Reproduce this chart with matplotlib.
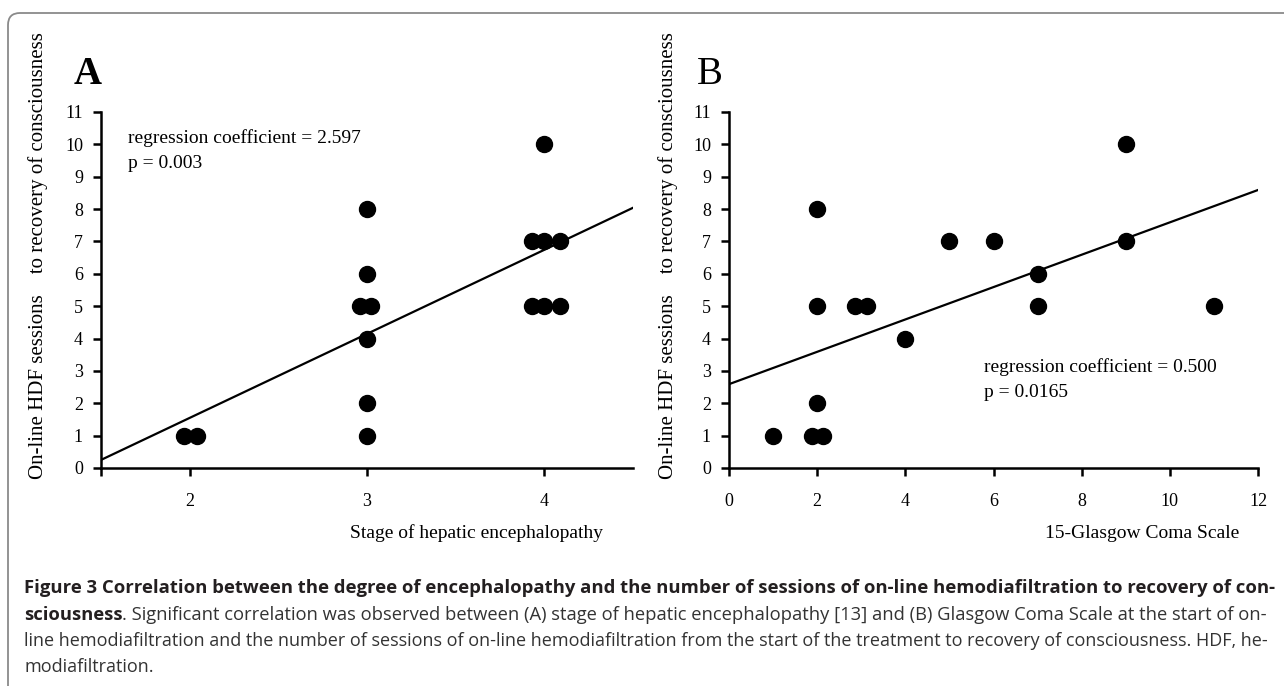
import matplotlib
matplotlib.use("Agg")
import matplotlib.pyplot as plt
from matplotlib.transforms import IdentityTransform
from matplotlib.patches import FancyBboxPatch

# panel A: stage of hepatic encephalopathy vs sessions
stage_x = [1.97, 2.04, 3.0, 3.0, 2.96, 3.02, 3.0, 3.0, 3.0, 4.0, 3.93, 4.0, 4.09, 3.93, 4.0, 4.09]
stage_y = [1, 1, 8, 6, 5, 5, 4, 2, 1, 10, 7, 7, 7, 5, 5, 5]
coefA = (2.597, -3.646)

# panel B: 15 - Glasgow Coma Scale vs sessions
gcs_x = [1.0, 2.0, 2.0, 2.0, 1.89, 2.14, 2.86, 3.13, 4.0, 5.0, 6.0, 7.0, 7.0, 9.0, 9.0, 11.0]
gcs_y = [1, 8, 5, 2, 1, 1, 5, 5, 4, 7, 7, 6, 5, 10, 7, 5]
coefB = (0.500, 2.59)

ylabel = "On-line HDF sessions    to recovery of consciousness"
W, H = 1284, 686
serif = ["Liberation Serif", "DejaVu Serif"]
sans = ["Open Sans", "DejaVu Sans"]

fig = plt.figure(figsize=(12.84, 6.86), dpi=100)
fig.add_artist(FancyBboxPatch((8, -30), 1320, 686 - 13 + 30,
                              boxstyle="round,pad=0,rounding_size=12",
                              transform=IdentityTransform(), fill=False,
                              ec="#8a8a8a", lw=1.3))


def panel(rect, xs, ys, coef, xlim, xticks, letter, bold, letter_x, note, note_xy,
          xlabel, xlab_x, ylab_x):
    ax = fig.add_axes(rect)
    ax.plot(xs, ys, ls="none", marker="o", ms=11.5, color="black")
    lx = list(xlim)
    ax.plot(lx, [coef[0] * v + coef[1] for v in lx], color="black", lw=1.6)
    ax.set_xlim(*xlim)
    ax.set_ylim(0, 11)
    ax.set_yticks(range(12))
    ax.set_xticks(xticks)
    ax.set_xticks([xlim[0]], minor=True)
    for s in ["top", "right"]:
        ax.spines[s].set_visible(False)
    for s in ["left", "bottom"]:
        ax.spines[s].set_linewidth(1.8)
    ax.tick_params(which="both", direction="out", length=6, width=1.8)
    ax.tick_params(axis="x", pad=12)
    ax.tick_params(axis="y", pad=7)
    for t in ax.get_xticklabels() + ax.get_yticklabels():
        t.set_fontfamily(serif)
        t.set_fontsize(13)
    ax.text(note_xy[0], note_xy[1], note[0], fontfamily=serif, fontsize=14, va="center")
    ax.text(note_xy[0], note_xy[1] - 0.8, note[1], fontfamily=serif, fontsize=14, va="center")
    ax.text(ylab_x, 0.598, ylabel, transform=ax.transAxes, rotation=90,
            fontfamily=serif, fontsize=15, ha="center", va="center")
    ax.text(xlab_x, -0.183, xlabel, transform=ax.transAxes,
            fontfamily=serif, fontsize=14, ha="center", va="center")
    ax.text(letter_x, 1.104, letter, transform=ax.transAxes, fontfamily=serif,
            fontsize=28, fontweight=bold, ha="center", va="center")
    return ax


panel([101 / W, 1 - 468 / H, 532 / W, 356 / H], stage_x, stage_y, coefA,
      (1.5, 4.5), [2, 3, 4], "A", "bold", -0.026,
      ("regression coefficient = 2.597", "p = 0.003"), (1.65, 10.2),
      "Stage of hepatic encephalopathy", 0.705, -0.118)
panel([729 / W, 1 - 468 / H, 529 / W, 356 / H], gcs_x, gcs_y, coefB,
      (0, 12), list(range(0, 13, 2)), "B", "normal", -0.036,
      ("regression coefficient = 0.500", "p = 0.0165"), (5.78, 3.12),
      "15-Glasgow Coma Scale", 0.781, -0.115)

# caption
cap = [
    [("Figure 3 Correlation between the degree of encephalopathy and the number of sessions of on-line hemodiafiltration to recovery of con-", "bold")],
    [("sciousness", "bold"), (". Significant correlation was observed between (A) stage of hepatic encephalopathy [13] and (B) Glasgow Coma Scale at the start of on-", "normal")],
    [("line hemodiafiltration and the number of sessions of on-line hemodiafiltration from the start of the treatment to recovery of consciousness. HDF, he-", "normal")],
    [("modiafiltration.", "normal")],
]
cap_y = [588, 615, 641, 667]
x0, x1 = 24, 1266
renderer = fig.canvas.get_renderer()
size = 12
last = size
for segs, yy in zip(cap, cap_y):
    arts = []
    for txt, wt in segs:
        a = fig.text(0, 0, txt, fontfamily=sans, fontsize=size, fontweight=wt,
                     color="#231f20" if wt == "bold" else "#333333",
                     va="center", ha="left", transform=IdentityTransform())
        arts.append(a)
    widths = [a.get_window_extent(renderer).width for a in arts]
    if len(segs) == 1 and segs[0][0].endswith("."):
        fs = last
    else:
        fs = size * (x1 - x0) / sum(widths)
        last = fs
    x = x0
    for a, w in zip(arts, widths):
        a.set_fontsize(fs)
        a.set_position((x, H - yy))
        x += w * fs / size

fig.savefig("out.png", dpi=100)
